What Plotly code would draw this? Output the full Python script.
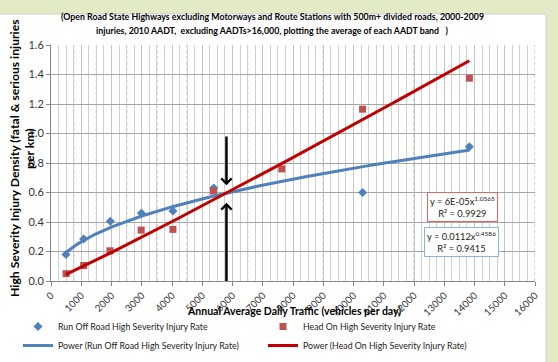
import numpy as np
import plotly.graph_objects as go

# ---------------- data ----------------
aadt_ror = [495, 1080, 1960, 2990, 4030, 5380, 10300, 13830]
rate_ror = [0.18, 0.285, 0.405, 0.46, 0.475, 0.63, 0.60, 0.91]

aadt_ho = [500, 1080, 1950, 2980, 4030, 5370, 7630, 10300, 13830]
rate_ho = [0.05, 0.105, 0.205, 0.345, 0.35, 0.61, 0.76, 1.165, 1.375]

# power trendline parameters (y = a * x^b) as shown on the chart
ror_a, ror_b = 0.0112, 0.4586
ho_a, ho_b = 6.3e-05, 1.0565

band_edges = [750, 1500, 2500, 3500, 4500, 6500, 9000, 12000, 16000]
crossover_aadt = 5800
x_ticks = list(range(0, 16001, 1000))
y_ticks = [0.0, 0.2, 0.4, 0.6, 0.8, 1.0, 1.2, 1.4, 1.6]

title_1 = "(Open Road State Highways excluding Motorways and Route Stations with 500m+ divided roads, 2000-2009"
title_2 = "injuries, 2010 AADT,  excluding AADTs>16,000, plotting the average of each AADT band   )"
ytitle_1 = "High Severity Injury Density (fatal & serious injuries"
ytitle_2 = "per km)"
xtitle = "Annual Average Daily Traffic (vehicles per day)"

# ---------------- layout geometry ----------------
W, H = 558, 362
L, R, T, B = 51, 535, 45, 281
PW, PH = R - L, B - T


def px(xp):
    return (xp - L) / PW


def py(yp):
    return (B - yp) / PH


FONT = "Lato, sans-serif"
BLUE = "#4F81BD"
RED_M = "#C0504D"
RED_L = "#C00000"

fig = go.Figure()

fig.add_trace(go.Scatter(
    x=aadt_ror, y=rate_ror, mode="markers",
    marker=dict(symbol="diamond", size=7, color=BLUE),
    name="Run Off Road High Severity Injury Rate"))
fig.add_trace(go.Scatter(
    x=aadt_ho, y=rate_ho, mode="markers",
    marker=dict(symbol="square", size=7, color=RED_M),
    name="Head On High Severity Injury Rate"))

xr = np.linspace(min(aadt_ror), max(aadt_ror), 200)
fig.add_trace(go.Scatter(
    x=xr, y=ror_a * xr ** ror_b, mode="lines",
    line=dict(color=BLUE, width=3),
    name="Power (Run Off Road High Severity Injury Rate)"))
xh = np.linspace(min(aadt_ho), max(aadt_ho), 200)
fig.add_trace(go.Scatter(
    x=xh, y=ho_a * xh ** ho_b, mode="lines",
    line=dict(color=RED_L, width=3),
    name="Power (Head On High Severity Injury Rate)"))

shapes = []
# white chart panel on the green background
shapes.append(dict(type="rect", xref="paper", yref="paper",
                   x0=px(-1), x1=px(546), y0=py(364), y1=py(14),
                   fillcolor="white", line=dict(color="#cfcfcf", width=1),
                   layer="below"))
for e in band_edges:
    shapes.append(dict(type="line", xref="x", yref="paper", x0=e, x1=e,
                       y0=0, y1=1, line=dict(color="#c8c08a", width=1.3, dash="dot"),
                       layer="between"))


def label(text, xp, yp, size, angle=0, color="#000", **kw):
    d = dict(text=text, xref="paper", yref="paper", x=px(xp), y=py(yp),
             xanchor="center", yanchor="middle", showarrow=False, textangle=angle,
             font=dict(size=size, family=FONT, color=color))
    d.update(kw)
    return d


annotations = [
    label("<b>" + title_1 + "</b>", 272, 16, 8.8),
    label("<b>" + title_2 + "</b>", 272, 31, 8.8),
    label("<b>" + ytitle_1 + "</b>", 14, 158, 12.2, angle=-90),
    label("<b>" + ytitle_2 + "</b>", 29, 149, 12.2, angle=-90),
    label("<b>" + xtitle + "</b>", 294, 311, 10.5),
    # equation boxes
    label("y = 6E-05x<sup>1.0565</sup><br>R² = 0.9929", 462, 207, 9.3, color="#222",
          bgcolor="white", bordercolor="#E06666", borderwidth=1, borderpad=2),
    label("y = 0.0112x<sup>0.4586</sup><br>R² = 0.9415", 461, 242, 9.3, color="#222",
          bgcolor="white", bordercolor="#8DB3E2", borderwidth=1, borderpad=2),
    # arrows pointing at the crossover
    dict(text="", x=crossover_aadt, y=0.65, ax=crossover_aadt, ay=0.99,
         xref="x", yref="y", axref="x", ayref="y", showarrow=True,
         arrowhead=4, arrowsize=0.8, arrowwidth=2.5, arrowcolor="#000"),
    dict(text="", x=crossover_aadt, y=0.53, ax=crossover_aadt, ay=-0.01,
         xref="x", yref="y", axref="x", ayref="y", showarrow=True,
         arrowhead=4, arrowsize=0.8, arrowwidth=2.5, arrowcolor="#000"),
]

fig.update_layout(
    width=W, height=H,
    margin=dict(l=L, r=W - R, t=T, b=H - B, pad=0, autoexpand=False),
    paper_bgcolor="#E2EAC6",
    plot_bgcolor="white",
    font=dict(family=FONT, size=11, color="#333"),
    shapes=shapes,
    annotations=annotations,
    showlegend=True,
    legend=dict(orientation="h", x=px(18), y=py(312), xanchor="left", yanchor="top",
                entrywidth=200, entrywidthmode="pixels", itemwidth=30,
                bgcolor="rgba(0,0,0,0)", font=dict(size=8.8, family=FONT, color="#222"),
                tracegroupgap=0),
)

fig.update_xaxes(
    range=[0, 16000], tickvals=x_ticks, ticktext=[str(v) for v in x_ticks],
    tickangle=-45, ticks="outside", ticklen=4, tickcolor="#868686",
    showline=True, linecolor="#868686", linewidth=1,
    showgrid=True, gridcolor="#c4c4c4", gridwidth=1,
    minor=dict(dtick=250, tick0=0, showgrid=True, gridcolor="#d0d0d0", gridwidth=1),
    tickfont=dict(size=9.8, family=FONT, color="#333"), zeroline=False, automargin=False)
fig.update_yaxes(
    range=[0, 1.6], tickvals=y_ticks, ticktext=[f"{v:.1f}" for v in y_ticks],
    ticks="outside", ticklen=4, tickcolor="#868686",
    showline=True, linecolor="#868686", linewidth=1,
    showgrid=True, gridcolor="#a6a6a6", gridwidth=1,
    tickfont=dict(size=11, family=FONT, color="#333"), zeroline=False, automargin=False)

fig.write_html("out.html")
